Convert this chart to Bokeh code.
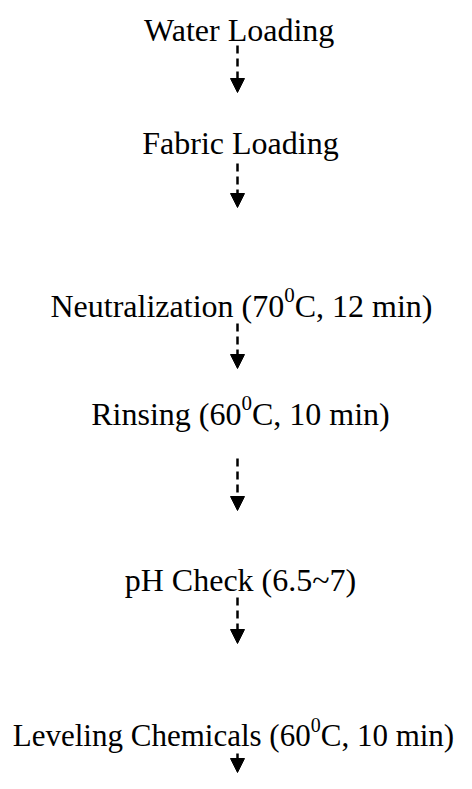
from bokeh.plotting import figure
from bokeh.models import Range1d, Arrow, NormalHead, ColumnDataSource
from bokeh.core.properties import value
from bokeh.embed import file_html
from bokeh.resources import INLINE

# Flow steps (text content): main text, superscript, text after superscript
step_prefix = ["Water Loading", "Fabric Loading", "Neutralization (70",
               "Rinsing (60", "pH Check (6.5~7)", "Leveling Chemicals (60"]
step_sup = ["", "", "0", "0", "", "0"]
step_suffix = ["", "", "C, 12 min)", "C, 10 min)", "", "C, 10 min)"]

# Layout (pixel coordinates)
step_cx = [240, 240, 241, 240, 240, 233]
step_baseline = [29, 142, 305, 413, 579, 735]
step_size = [32, 32, 32, 32, 32, 31]
arrow_x = [237, 237, 237, 237, 237, 237]
arrow_start = [45, 163, 323, 458, 597, 753]
arrow_end = [92, 207, 368, 510, 643, 772]

# Times / Liberation Serif advance widths (em/1000)
TW = {' ': 250, '(': 333, ')': 333, ',': 250, '.': 250, '~': 541,
      'A': 722, 'C': 667, 'F': 556, 'H': 722, 'L': 611, 'N': 722, 'R': 667, 'W': 944,
      'a': 444, 'b': 500, 'c': 444, 'd': 500, 'e': 444, 'g': 500, 'h': 500, 'i': 278,
      'k': 500, 'l': 278, 'm': 778, 'n': 500, 'o': 500, 'p': 500, 'r': 333, 's': 389,
      't': 278, 'u': 500, 'v': 500, 'z': 444}
def tw(s, size):
    return sum(TW.get(c, 500) for c in s) / 1000.0 * size

FONT = value("Liberation Serif")

W, H = 456, 773
p = figure(width=W, height=H, output_backend="svg", toolbar_location=None,
           x_range=Range1d(0, W), y_range=Range1d(H, 0),
           x_axis_location=None, y_axis_location=None, min_border=0)
p.outline_line_color = None
p.xgrid.visible = False
p.ygrid.visible = False
p.background_fill_color = "white"
p.border_fill_color = "white"

for pre, sup, suf, cx, by, fs in zip(step_prefix, step_sup, step_suffix,
                                     step_cx, step_baseline, step_size):
    ss = round(fs * 0.66)
    w_pre, w_sup, w_suf = tw(pre, fs), tw(sup, ss), tw(suf, fs)
    x0 = cx - (w_pre + w_sup + w_suf) / 2.0
    p.text(x=[x0], y=[by], text=[pre], text_font=FONT, text_font_size=f"{fs}px",
           text_align="left", text_baseline="alphabetic", text_color="black")
    if sup:
        p.text(x=[x0 + w_pre], y=[by - fs * 0.34], text=[sup], text_font=FONT,
               text_font_size=f"{ss}px", text_align="left", text_baseline="alphabetic",
               text_color="black")
        p.text(x=[x0 + w_pre + w_sup], y=[by], text=[suf], text_font=FONT,
               text_font_size=f"{fs}px", text_align="left", text_baseline="alphabetic",
               text_color="black")

for xa, ys, ye in zip(arrow_x, arrow_start, arrow_end):
    p.add_layout(Arrow(end=NormalHead(size=14, fill_color="black", line_color="black", line_width=1),
                       x_start=xa, y_start=ys, x_end=xa, y_end=ye,
                       line_color="black", line_width=2.5, line_dash="8 5"))

open("out.html", "w").write(file_html(p, INLINE))
